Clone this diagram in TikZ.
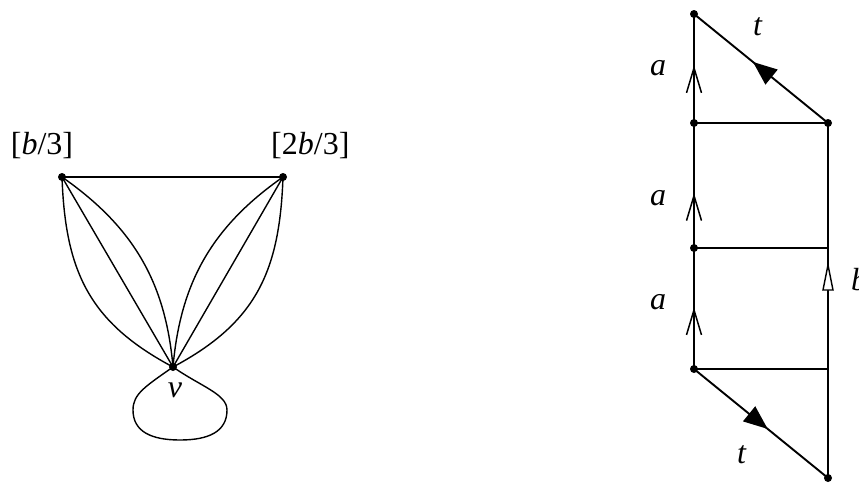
\documentclass[tikz,border=0pt]{standalone}
\usepackage{fontspec}
\setmainfont{Liberation Serif}
\usetikzlibrary{arrows.meta,decorations.markings}
\tikzset{
  dot/.style={circle,fill=black,inner sep=0pt,minimum size=8pt},
  lab/.style={inner sep=0pt,font=\fontsize{32}{38}\selectfont},
  gedge/.style={line width=1.4pt},
  mainline/.style={line width=1.9pt},
  rung/.style={line width=1.1pt},
  chev/.style={postaction={decorate,decoration={markings,mark=at position #1 with {\arrow[line width=1.5pt]{Straight Barb[length=25pt,width=15pt]}}}}},
  otri/.style={postaction={decorate,decoration={markings,mark=at position #1 with {\draw[line width=1.4pt,fill=white,line join=miter] (0,0) -- (-25,5) -- (-25,-5) -- cycle;}}}},
  ftri/.style={postaction={decorate,decoration={markings,mark=at position #1 with {\arrow{Triangle[length=24pt,width=19pt]}}}}},
}
\begin{document}
\begin{tikzpicture}[x=1pt,y=1pt]
\useasboundingbox (0,0) rectangle (859,-482);
% ---------- left graph ----------
\coordinate (L) at (62,-177);
\coordinate (R) at (283,-177);
\coordinate (v) at (173,-367);
\coordinate (lpa) at (133,-410);
\coordinate (lpb) at (180,-440);
\coordinate (lpc) at (227,-410);
\draw[gedge] (L) -- (R);
\draw[gedge] (L) -- (v);
\draw[gedge] (L) to[out=-88,in=152,looseness=1.1] (v);
\draw[gedge] (L) to[out=-35,in=95] (v);
\draw[gedge] (R) -- (v);
\draw[gedge] (R) to[out=-92,in=28,looseness=1.1] (v);
\draw[gedge] (R) to[out=-145,in=85] (v);
\draw[gedge] (v) .. controls +(-145:34) and +(90:16) .. (lpa)
  .. controls +(-90:22) and +(180:28) .. (lpb)
  .. controls +(0:28) and +(-90:22) .. (lpc)
  .. controls +(90:16) and +(-35:34) .. (v);
\node[dot] at (L) {};
\node[dot] at (R) {};
\node[dot] at (v) {};
\node[lab] (lL) at (42,-146) {[\textit{b}/3]};
\node[lab,anchor=west] (lR) at (271,-146) {[2\textit{b}/3]};
\node[lab] (lv) at (175,-390) {\textit{v}};
% ---------- right figure ----------
\coordinate (A1) at (694,-14);
\coordinate (A2) at (694,-123);
\coordinate (A3) at (694,-248);
\coordinate (A4) at (694,-369);
\coordinate (B1) at (828,-123);
\coordinate (B3) at (828,-248);
\coordinate (B4) at (828,-369);
\coordinate (B5) at (828,-478);
\draw[rung] (A2) -- (B1);
\draw[rung] (A3) -- (B3);
\draw[rung] (A4) -- (B4);
\draw[mainline,chev=0.53] (A2) -- (A1);
\draw[mainline,chev=0.44] (A3) -- (A2);
\draw[mainline,chev=0.51] (A4) -- (A3);
\draw[mainline,otri=0.6] (B5) -- (B1);
\draw[mainline,ftri=0.56] (B1) -- (A1);
\draw[mainline,ftri=0.55] (A4) -- (B5);
\foreach \p in {A1,A2,A3,A4,B1,B5} \node[dot] at (\p) {};
\node[lab] (ta) at (758,-27) {\textit{t}};
\node[lab] (tb) at (742,-455) {\textit{t}};
\node[lab] (a1) at (658,-68) {\textit{a}};
\node[lab] (a2) at (658,-198) {\textit{a}};
\node[lab] (a3) at (658,-302) {\textit{a}};
\node[lab,anchor=west] (lb) at (851,-280) {\textit{b}};
\end{tikzpicture}
\end{document}
